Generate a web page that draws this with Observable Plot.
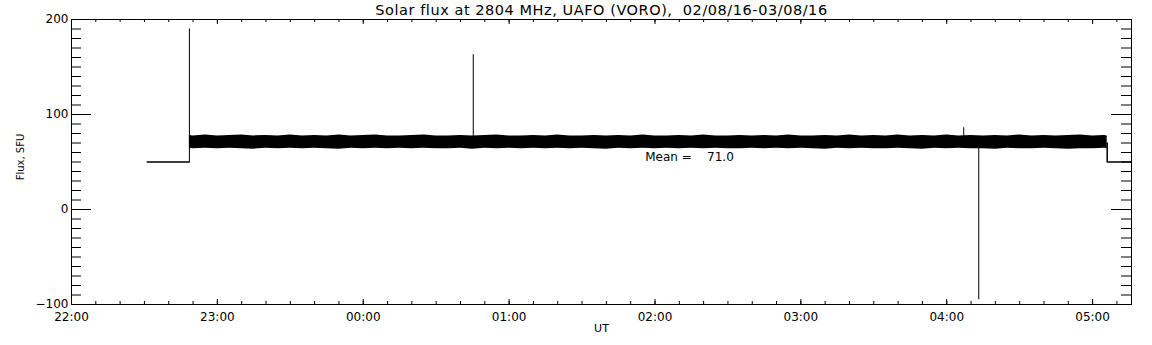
<!DOCTYPE html>
<html><head><meta charset="utf-8">
<script src="https://cdn.jsdelivr.net/npm/d3@7"></script>
<script src="https://cdn.jsdelivr.net/npm/@observablehq/plot@0.6"></script>
<style>
body{margin:0;background:#fff}
svg text{white-space:pre}
</style>
</head><body><div id="chart"></div>
<script>
// ---- text ----
const title = "Solar flux at 2804 MHz, UAFO (VORO),  02/08/16-03/08/16";
const yLabel = "Flux, SFU";
const xLabel = "UT";
const meanText = "Mean =    71.0";
const meanAt = ["01:56", 55];

// ---- axes ----
const xStart = "22:00", xEnd = "05:16";
const xMajorLabels = ["22:00","23:00","00:00","01:00","02:00","03:00","04:00","05:00"];
const yDomain = [-100, 200];
const yMajor = [-100, 0, 100, 200];

// ---- data ----
const preTimes = ["22:31:10", "22:48:30"];
const preFlux = [50, 50];
const postTimes = ["05:06:00", "05:06:00", "05:20:00"];
const postFlux = [70, 50, 50];
const spikeTimes = ["22:48:30", "00:45:15", "04:07:00", "04:13:10"];
const spikeFrom = [50, 70, 70, 70];
const spikeTo = [190, 163, 86, -95];
// noise band envelope: first sample 22:48:30, then every 5 min from 22:50 to 05:05, last 05:06
const bandHigh = [
 78,77.5,78.5,77.5,78,78.5,77.5,78,77.5,78.5,
 77.5,78,77.5,78.5,77.5,78,78.5,77.5,77.5,78,
 78.5,77.5,77.5,78,77.5,78,78.5,77.5,77.5,78,
 77.5,78.5,77.5,77.5,78,77.5,78,77.5,78.5,77.5,
 77.5,78,77.5,78.5,77.5,77.5,78,77.5,78,77.5,
 78.5,77.5,77.5,78,77.5,78.5,77.5,78,77.5,78.5,
 77.5,78,77.5,78.5,77.5,78,77.5,78,77.5,78.5,
 77.5,78,77.5,78,78.5,77.5,78,77.5];
const bandLow = [
 64.5,64,64.5,64,64.5,64,63.5,64.5,64,64.5,
 64,64.5,64,63.5,64.5,64,64.5,64,64.5,64,
 64.5,64,64,64.5,63.5,64.5,64,64.5,64,64.5,
 64,64.5,64,64.5,64,63.5,64.5,64,64.5,64,
 64.5,64,64.5,64,64.5,64,64,64.5,64,64.5,
 64,64.5,64,63.5,64.5,64,64.5,64,64,64.5,
 64,63.5,64.5,64,64.5,64,64,63.5,64.5,64,
 64,64.5,64,63.5,64,64,64.5,64];

// ---- helpers ----
const T = s => { const [h,m,sec="0"] = s.split(":"); const day = +h >= 12 ? 2 : 3; return new Date(Date.UTC(2016,7,day,+h,+m,+sec)); };
const bandTimes = [T("22:48:30"), ...d3.utcMinute.every(5).range(T("22:50"), T("05:06")), T("05:06")];
const n = Math.min(bandTimes.length, bandHigh.length, bandLow.length);
const band = d3.range(n).map(i => ({t: bandTimes[i], hi: bandHigh[i], lo: bandLow[i]}));
const pre = preTimes.map((s,i) => ({t: T(s), v: preFlux[i]}));
const post = postTimes.map((s,i) => ({t: T(s), v: postFlux[i]}));
const spikes = spikeTimes.map((s,i) => ({t: T(s), a: spikeFrom[i], b: spikeTo[i]}));

const W = 1152, H = 345, mL = 71, mR = 21, mT = 19, mB = 41;
const fw = W - mL - mR, fh = H - mT - mB;
const xMajor = xMajorLabels.map(T);
const xMinor = d3.utcMinute.every(10).range(T(xStart), T(xEnd));
const yMinor = d3.range(yDomain[0], yDomain[1] + 1, 10);

const chart = Plot.plot({
  width: W, height: H,
  marginLeft: mL, marginRight: mR, marginTop: mT, marginBottom: mB,
  style: {fontFamily: "DejaVu Sans", fontSize: "12px", color: "black", background: "white"},
  x: {type: "utc", domain: [T(xStart), T(xEnd)]},
  y: {domain: yDomain},
  marks: [
    Plot.areaY(band, {x: "t", y1: "lo", y2: "hi", fill: "black", clip: true}),
    Plot.line(pre, {x: "t", y: "v", stroke: "black", clip: true}),
    Plot.line(post, {x: "t", y: "v", stroke: "black", clip: true}),
    Plot.ruleX(spikes, {x: "t", y1: "a", y2: "b", stroke: "black", clip: true}),
    // inward ticks
    Plot.tickY(yMinor, {y: d => d, insetRight: fw - 10, stroke: "black"}),
    Plot.tickY(yMajor, {y: d => d, insetRight: fw - 20, stroke: "black"}),
    Plot.tickY(yMinor, {y: d => d, insetLeft: fw - 10, stroke: "black"}),
    Plot.tickY(yMajor, {y: d => d, insetLeft: fw - 20, stroke: "black"}),
    Plot.tickX(xMinor, {x: d => d, insetTop: fh - 3, stroke: "black"}),
    Plot.tickX(xMajor, {x: d => d, insetTop: fh - 5, stroke: "black"}),
    Plot.tickX(xMinor, {x: d => d, insetBottom: fh - 3, stroke: "black"}),
    Plot.tickX(xMajor, {x: d => d, insetBottom: fh - 5, stroke: "black"}),
    Plot.frame({stroke: "black"}),
    Plot.axisX({ticks: xMajor, tickSize: 0, tickPadding: 8, tickFormat: d3.utcFormat("%H:%M"), label: null}),
    Plot.axisY({ticks: yMajor, tickSize: 0, tickPadding: 3, label: null}),
    Plot.text([title], {text: d => d, frameAnchor: "top", textAnchor: "middle", dy: -9, lineAnchor: "middle", fontSize: 14.5}),
    Plot.text([yLabel], {text: d => d, frameAnchor: "left", textAnchor: "middle", rotate: -90, dx: -51, dy: -5, lineAnchor: "middle", fontSize: 10}),
    Plot.text([xLabel], {text: d => d, frameAnchor: "bottom", textAnchor: "middle", dy: 24, lineAnchor: "middle", fontSize: 11}),
    Plot.text([{t: T(meanAt[0]), v: meanAt[1], s: meanText}], {x: "t", y: "v", text: "s", textAnchor: "start", lineAnchor: "middle", fontSize: 12})
  ]
});
d3.select(chart).selectAll("text").filter(function() { return this.textContent === title; }).attr("letter-spacing", "0.55px");
document.getElementById("chart").append(chart);
</script>
</body></html>
